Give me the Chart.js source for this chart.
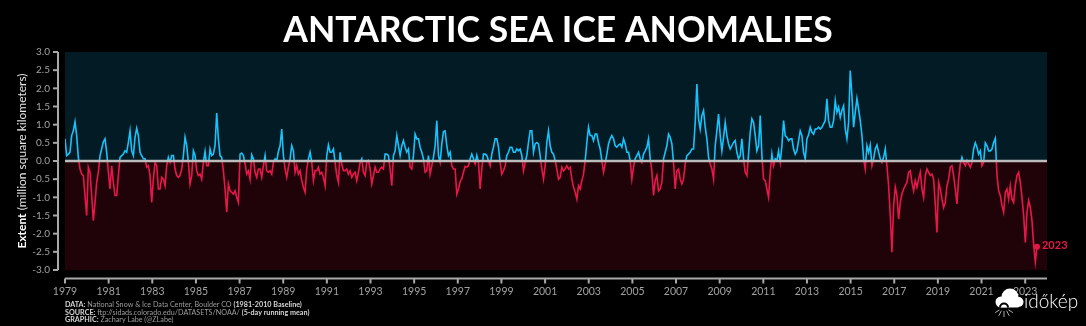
<!DOCTYPE html>
<html>
<head>
<meta charset="utf-8">
<title>Antarctic Sea Ice Anomalies</title>
<script src="https://cdn.jsdelivr.net/npm/chart.js@4.4.1/dist/chart.umd.min.js"></script>
<style>
  html, body { margin: 0; padding: 0; background: #000; overflow: hidden; }
  #wrap { position: relative; width: 1086px; height: 326px; }
</style>
</head>
<body>
<div id="wrap"><canvas id="iceChart"></canvas></div>
<script>
// samples roughly every 4 weeks
const startYear = 1979.0;
const stepYears = 0.0764;

const anom1979to1987 = [
  0.61, 0.15, 0.19, 0.24, 0.70, 0.83, 1.08, 0.70, 0.10, -0.22,
  -0.36, -0.40, -0.95, -1.50, -0.17, -0.31, -0.95, -1.64, -1.14, -0.59,
  -0.31, 0.15, 0.33, 0.53, 0.61, 0.24, -0.31, -0.77, -0.13, -0.59,
  -0.95, -0.95, -0.40, 0.10, 0.15, 0.19, 0.28, 0.24, 0.51, 0.83,
  0.28, 0.15, 0.65, 0.90, 0.70, 0.24, 0.15, 0.06, 0.06, -0.17,
  -0.13, -0.40, -1.14, -0.50, -0.04, -0.13, -0.77, -0.77, -0.45, -0.50,
  -0.68, -0.13, 0.10, -0.04, 0.15, 0.15, -0.22, -0.40, -0.45, -0.40,
  -0.22, 0.15, 0.65, 0.42, -0.04, -0.63, -0.40, 0.28, 0.15, -0.27,
  -0.40, -0.36, -0.50, -0.04, 0.26, -0.13, -0.13, 0.33, 0.15, 0.19,
  0.42, 1.32, 0.61, 0.15, 0.10, -0.27, -0.77, -1.41, -0.63, -0.82,
  -0.86, -0.91, -0.82, -1.00, -1.14, 0.19, 0.22, 0.15, -0.08, -0.36,
  -0.27, -0.50, 0.17, 0.06, -0.31, -0.45, -0.22,
];

const anom1988to1996 = [
  -0.22, -0.45, -0.13, 0.15, -0.27, -0.31, -0.27, -0.36, -0.04, 0.06,
  0.01, 0.26, 0.42, 0.88, 0.15, -0.22, -0.45, -0.17, 0.06, 0.42,
  0.28, -0.31, -0.13, -0.36, -0.27, -0.54, -0.72, -0.86, -0.22, 0.06,
  0.24, -0.04, -0.54, -0.27, -0.27, -0.17, -0.36, -0.31, -0.45, -0.68,
  0.15, 0.44, 0.24, 0.24, 0.33, -0.04, -0.40, -0.59, 0.24, -0.08,
  -0.27, -0.27, -0.22, -0.36, -0.27, -0.45, -0.36, -0.31, -0.54, -0.31,
  -0.04, 0.06, -0.31, -0.40, -0.04, 0.01, -0.22, -0.63, -0.40, -0.17,
  -0.31, -0.31, -0.22, -0.17, -0.22, 0.19, 0.19, 0.15, -0.22, -0.68,
  0.15, 0.28, 0.70, 0.42, 0.15, 0.42, 0.56, 0.38, 0.24, 0.33,
  -0.17, -0.22, 0.15, 0.74, 0.61, 0.61, 0.38, 0.24, 0.06, -0.31,
  -0.27, 0.15, -0.36, -0.13, 0.10, 0.42, 1.11, 0.15, -0.04, 0.47,
  0.81, 0.83, 0.42, 0.15, 0.24, -0.13, -0.22,
];

const anom1997to2005 = [
  -0.22, -0.91, -0.77, -0.57, -0.48, -0.31, -0.15, -0.17, -0.13, 0.06,
  0.19, 0.06, -0.08, 0.15, -0.04, -0.77, -0.22, 0.19, 0.19, 0.15,
  0.01, -0.13, 0.19, 0.38, 0.61, 0.61, 0.38, -0.04, -0.36, -0.27,
  -0.13, 0.15, 0.24, 0.38, 0.38, 0.24, 0.24, 0.33, 0.28, 0.33,
  0.15, -0.27, -0.04, 0.15, 0.51, 0.83, 0.83, 0.24, 0.47, 0.51,
  0.47, 0.15, -0.22, -0.50, -0.13, 0.51, 0.83, 0.42, 0.24, 0.19,
  0.01, -0.22, -0.50, -0.45, -0.17, -0.27, -0.22, -0.13, -0.22, -0.17,
  -0.50, -0.72, -0.86, -1.05, -0.68, -0.77, -0.54, -0.36, 0.01, 0.51,
  0.93, 0.70, 0.70, 0.56, 0.74, 0.74, 0.50, 0.33, 0.01, -0.31,
  -0.08, 0.19, 0.47, 0.61, 0.70, 0.61, 0.42, 0.38, 0.44, 0.47,
  0.38, 0.61, 0.47, 0.24, 0.24, 0.01, -0.50, -0.17, 0.06, 0.15,
  0.24, 0.06, -0.04, 0.19, 0.28, 0.38, 0.61,
];

const anom2006to2014 = [
  0.06, -0.27, -0.95, -0.54, -0.40, -0.82, -0.77, -0.59, 0.06, 0.24,
  0.42, 0.74, 0.65, 0.47, -0.04, -0.77, -0.27, -0.22, -0.50, -0.63,
  -0.50, -0.08, 0.15, 0.19, 0.24, 0.33, 0.33, 1.06, 2.12, 1.16,
  0.88, 1.25, 1.39, 0.93, 0.61, 0.10, -0.08, -0.22, -0.50, 0.42,
  0.83, 1.29, 0.70, 0.28, 0.65, 1.06, 0.70, 0.47, 0.33, 0.42,
  0.51, 0.56, 0.24, 0.06, 0.15, 0.61, 0.06, -0.31, -0.40, 0.19,
  0.79, 1.16, 1.06, 0.70, 0.28, 0.42, 1.25, 0.15, -0.50, -0.54,
  -0.77, -1.00, -0.31, 0.19, -0.13, 0.06, 0.01, 0.28, -0.04, 0.42,
  1.11, 0.70, 0.65, 0.56, 0.61, 0.61, 0.33, 0.19, 0.28, 0.56,
  0.83, 0.70, 0.24, 0.06, 0.61, 0.72, 0.93, 0.79, 0.74, 0.88,
  0.88, 0.93, 0.88, 0.93, 1.02, 1.11, 1.71, 1.11, 0.93, 0.93,
  1.11, 1.66, 1.34, 1.48, 1.20, 1.39, 1.52,
];

const anom2015to2023 = [
  0.88, 0.61, 1.06, 2.49, 1.80, 0.93, 1.34, 1.72, 1.43, 1.11,
  0.70, 0.06, -0.22, 0.42, 0.24, 0.44, -0.13, 0.06, 0.33, 0.44,
  0.24, 0.06, -0.04, 0.10, 0.33, -0.13, -0.68, -1.50, -2.51, -1.23,
  -0.72, -0.95, -1.60, -1.14, -0.91, -0.77, -0.68, -0.59, -0.31, -0.27,
  -0.59, -0.82, -0.54, -0.72, -0.50, -0.31, -0.77, -1.00, -0.40, -0.22,
  -0.31, -0.40, -0.36, -0.50, -1.20, -1.97, -0.59, -0.77, -1.05, -1.28,
  -1.14, -0.68, -0.50, -0.17, -0.13, -0.40, -0.77, -1.18, -0.50, -0.08,
  0.10, -0.04, -0.13, 0.01, -0.08, -0.17, -0.04, 0.33, 0.50, 0.38,
  0.19, 0.28, -0.13, -0.04, 0.50, 0.42, 0.28, 0.28, 0.33, 0.51,
  0.62, -0.40, -0.82, -0.95, -1.23, -1.41, -0.86, -0.77, -1.05, -0.68,
  -1.05, -1.14, -0.68, -0.40, -0.31, -0.59, -1.00, -1.50, -2.24, -1.41,
  -1.09, -1.28, -1.64, -2.30, -2.78, -2.36,
];

const xTickYears = [
  1979, 1981, 1983, 1985, 1987, 1989, 1991, 1993, 1995, 1997, 1999, 2001,
  2003, 2005, 2007, 2009, 2011, 2013, 2015, 2017, 2019, 2021, 2023,
];
const yTickValues = [-3.0, -2.5, -2.0, -1.5, -1.0, -0.5, 0.0, 0.5, 1.0, 1.5, 2.0, 2.5, 3.0];

const anomalies = [
  ...anom1979to1987,
  ...anom1988to1996,
  ...anom1997to2005,
  ...anom2006to2014,
  ...anom2015to2023,
];

const palette = {
  above: "#17c3fb",
  below: "#e8174a",
  bgAbove: "#021b25",
  bgBelow: "#1f0309",
  spine: "#a8a8a8",
  zero: "#bcbcbc",
  tick: "#a2a2a2",
  note: "#9c9c9c",
  white: "#ffffff",
};

const fontFamily = 'Lato, "DejaVu Sans", sans-serif';
Chart.defaults.font.family = fontFamily;

function splitGradient(context) {
  const chart = context.chart;
  const area = chart.chartArea;
  if (!area || !chart.scales.y) return palette.below;
  const y0 = chart.scales.y.getPixelForValue(0);
  const f = Math.min(1, Math.max(0, (y0 - area.top) / (area.bottom - area.top)));
  const g = chart.ctx.createLinearGradient(0, area.top, 0, area.bottom);
  g.addColorStop(0, palette.above);
  g.addColorStop(f, palette.above);
  g.addColorStop(f, palette.below);
  g.addColorStop(1, palette.below);
  return g;
}

function drawRuns(ctx, x, y, runs, size) {
  let cx = x;
  for (const [text, bold, color] of runs) {
    ctx.font = `${bold ? "bold " : ""}${size}px ${fontFamily}`;
    ctx.fillStyle = color;
    ctx.fillText(text, cx, y);
    cx += ctx.measureText(text).width;
  }
}

function runsWidth(ctx, runs, size) {
  let w = 0;
  for (const [text, bold] of runs) {
    ctx.font = `${bold ? "bold " : ""}${size}px ${fontFamily}`;
    w += ctx.measureText(text).width;
  }
  return w;
}

function drawLogo(ctx) {
  ctx.save();
  ctx.fillStyle = palette.white;
  [[1001, 302, 5.5], [1010, 297, 8.5], [1018.5, 302, 5]].forEach(([x, y, r]) => {
    ctx.beginPath();
    ctx.arc(x, y, r, 0, Math.PI * 2);
    ctx.fill();
  });
  ctx.fillRect(1001, 300, 17.5, 7.5);
  ctx.fillStyle = "#000";
  ctx.beginPath();
  ctx.arc(1004, 307.5, 5, Math.PI, 0);
  ctx.fill();
  ctx.fillStyle = palette.white;
  ctx.beginPath();
  ctx.arc(1004, 307.5, 3, Math.PI, 0);
  ctx.fill();
  ctx.strokeStyle = "#d8d8d8";
  ctx.lineWidth = 0.8;
  [-1.1, -0.55, 0, 0.55, 1.1].forEach((a) => {
    ctx.beginPath();
    ctx.moveTo(1004 + Math.sin(a) * 5, 309 + Math.cos(a) * 2);
    ctx.lineTo(1004 + Math.sin(a) * 10, 309 + Math.cos(a) * 8);
    ctx.stroke();
  });
  ctx.fillStyle = palette.white;
  ctx.font = `300 19px ${fontFamily}`;
  ctx.textAlign = "left";
  ctx.textBaseline = "alphabetic";
  ctx.fillText("időkép", 1024, 308);
  ctx.restore();
}

const decorations = {
  id: "decorations",
  beforeDatasetsDraw(chart) {
    const { ctx, chartArea: a, scales } = chart;
    const y0 = scales.y.getPixelForValue(0);
    ctx.save();
    ctx.fillStyle = palette.bgAbove;
    ctx.fillRect(a.left, a.top, a.right - a.left, y0 - a.top);
    ctx.fillStyle = palette.bgBelow;
    ctx.fillRect(a.left, y0, a.right - a.left, a.bottom - y0);
    ctx.restore();
  },
  afterDatasetsDraw(chart) {
    const { ctx, chartArea: a, scales } = chart;
    const y0 = scales.y.getPixelForValue(0);
    ctx.save();
    ctx.strokeStyle = palette.zero;
    ctx.lineWidth = 2.5;
    ctx.beginPath();
    ctx.moveTo(a.left, y0);
    ctx.lineTo(a.right, y0);
    ctx.stroke();
    ctx.restore();
  },
  afterDraw(chart) {
    const { ctx, chartArea: a, scales } = chart;
    ctx.save();

    // offset spines
    ctx.strokeStyle = palette.spine;
    ctx.lineWidth = 2;
    const sx = a.left - 7;
    ctx.beginPath();
    ctx.moveTo(sx, a.top);
    ctx.lineTo(sx, a.bottom);
    ctx.stroke();
    scales.y.ticks.forEach((t) => {
      const py = scales.y.getPixelForValue(t.value);
      ctx.beginPath();
      ctx.moveTo(sx - 5, py);
      ctx.lineTo(sx, py);
      ctx.stroke();
    });
    const sy = a.bottom + 8.5;
    ctx.beginPath();
    ctx.moveTo(a.left, sy);
    ctx.lineTo(a.right, sy);
    ctx.stroke();
    scales.x.ticks.forEach((t) => {
      const px = scales.x.getPixelForValue(t.value);
      ctx.beginPath();
      ctx.moveTo(px, sy);
      ctx.lineTo(px, sy + 5);
      ctx.stroke();
    });

    // title
    ctx.fillStyle = palette.white;
    ctx.font = `bold 35.5px ${fontFamily}`;
    ctx.textAlign = "center";
    ctx.textBaseline = "alphabetic";
    ctx.fillText("ANTARCTIC SEA ICE ANOMALIES", (a.left + a.right) / 2 + 2, 42);

    // y axis title
    const yRuns = [
      ["Extent", true, palette.white],
      [" (million square kilometers)", false, "#e6e6e6"],
    ];
    ctx.save();
    ctx.translate(22, (a.top + a.bottom) / 2);
    ctx.rotate(-Math.PI / 2);
    ctx.textAlign = "left";
    ctx.textBaseline = "middle";
    const w = runsWidth(ctx, yRuns, 12);
    drawRuns(ctx, -w / 2, 0, yRuns, 12);
    ctx.restore();

    // end label
    const meta = chart.getDatasetMeta(0);
    const last = meta.data[meta.data.length - 1];
    ctx.fillStyle = palette.below;
    ctx.font = `bold 11px ${fontFamily}`;
    ctx.textAlign = "left";
    ctx.textBaseline = "middle";
    ctx.fillText("2023", last.x + 5, last.y - 1);

    // footer notes
    ctx.textBaseline = "alphabetic";
    drawRuns(ctx, a.left, 306.5, [
      ["DATA:", true, "#d6d6d6"],
      [" National Snow & Ice Data Center, Boulder CO ", false, palette.note],
      ["(1981-2010 Baseline)", true, "#d6d6d6"],
    ], 7.2);
    drawRuns(ctx, a.left, 314.5, [
      ["SOURCE:", true, "#d6d6d6"],
      [" ftp://sidads.colorado.edu/DATASETS/NOAA/ ", false, palette.note],
      ["(5-day running mean)", true, "#d6d6d6"],
    ], 7.2);
    drawRuns(ctx, a.left, 322, [
      ["GRAPHIC:", true, "#d6d6d6"],
      [" Zachary Labe (@ZLabe)", false, palette.note],
    ], 7.2);

    ctx.restore();
    drawLogo(ctx);
  },
};

const points = anomalies.map((v, i) => ({ x: startYear + i * stepYears, y: v }));
const lastIndex = points.length - 1;

new Chart(document.getElementById("iceChart"), {
  type: "line",
  data: {
    datasets: [
      {
        label: "Antarctic sea ice extent anomaly",
        data: points,
        borderColor: splitGradient,
        borderWidth: 1.6,
        tension: 0,
        pointRadius: (c) => (c.dataIndex === lastIndex ? 3 : 0),
        pointBackgroundColor: palette.below,
        pointBorderWidth: 0,
        fill: false,
      },
    ],
  },
  options: {
    responsive: true,
    maintainAspectRatio: false,
    animation: false,
    layout: { padding: { top: 52, right: 39, left: 0, bottom: 0 } },
    plugins: {
      legend: { display: false },
      tooltip: { enabled: false },
      title: { display: false },
    },
    scales: {
      x: {
        type: "linear",
        min: 1979,
        max: 2024,
        grid: { display: false, drawTicks: false },
        border: { display: false },
        afterBuildTicks: (scale) => {
          scale.ticks = xTickYears.map((v) => ({ value: v }));
        },
        afterFit: (scale) => {
          scale.height = 56;
        },
        ticks: {
          autoSkip: false,
          maxRotation: 0,
          padding: 15,
          color: palette.tick,
          font: { size: 10.5 },
          callback: (v) => String(v),
        },
      },
      y: {
        min: -3,
        max: 3,
        grid: { display: false, drawTicks: false },
        border: { display: false },
        afterBuildTicks: (scale) => {
          scale.ticks = yTickValues.map((v) => ({ value: v }));
        },
        afterFit: (scale) => {
          scale.width = 65;
        },
        ticks: {
          padding: 15,
          color: palette.tick,
          font: { size: 10 },
          callback: (v) => Number(v).toFixed(1),
        },
      },
    },
  },
  plugins: [decorations],
});
</script>
</body>
</html>
